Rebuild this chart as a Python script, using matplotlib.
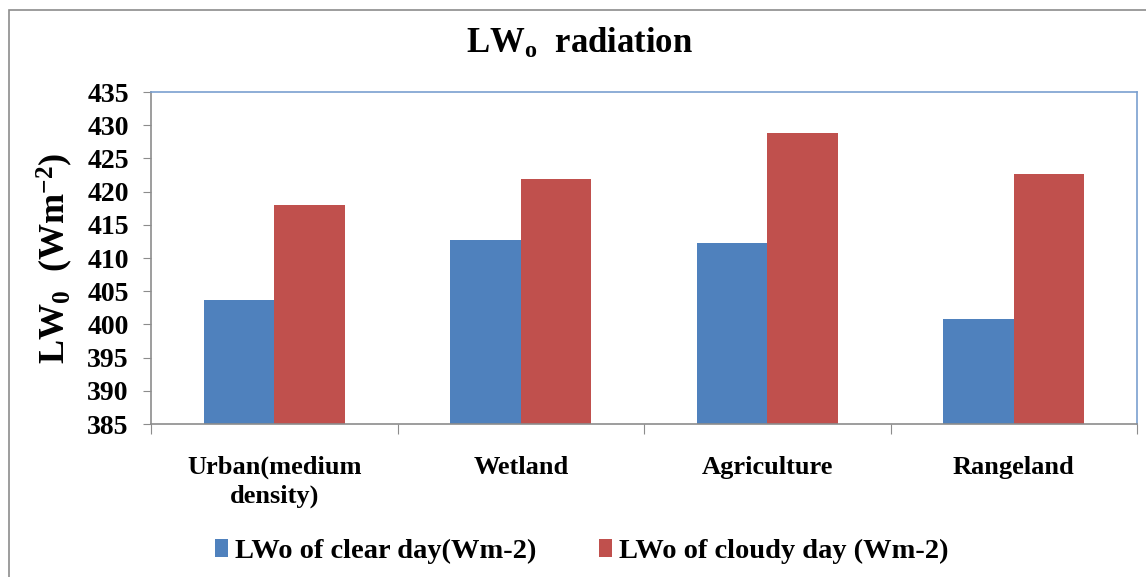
import matplotlib.pyplot as plt
import numpy as np
from matplotlib.patches import Rectangle

categories = ["Urban(medium\ndensity)", "Wetland", "Agriculture", "Rangeland"]
clear_day = [403.7, 412.7, 412.2, 400.8]
cloudy_day = [418.0, 421.9, 428.9, 422.6]
series_names = ["LWo of clear day(Wm-2)", "LWo of cloudy day (Wm-2)"]
yticks = list(range(385, 436, 5))

plt.rcParams['font.family'] = ['Liberation Serif', 'DejaVu Serif']
plt.rcParams['font.weight'] = 'bold'
plt.rcParams['mathtext.fontset'] = 'custom'
plt.rcParams['mathtext.rm'] = 'Liberation Serif:bold'
plt.rcParams['mathtext.bf'] = 'Liberation Serif:bold'
plt.rcParams['mathtext.it'] = 'Liberation Serif:bold'

fig = plt.figure(figsize=(11.46, 5.77), dpi=100)
# chart area border (right and bottom edges fall outside the image)
fig.patches.append(Rectangle((9 / 1146, -0.05), 1.1, 1 - 10 / 577 + 0.05,
                             transform=fig.transFigure, fill=False,
                             edgecolor='#8c8c8c', linewidth=1.2))
ax = fig.add_axes([151 / 1146, 1 - 424 / 577, 986 / 1146, 332 / 577])

x = np.arange(len(categories))
w = 0.286
ax.bar(x - w / 2, [v - 385 for v in clear_day], w, bottom=385, color='#4F81BD', label=series_names[0])
ax.bar(x + w / 2, [v - 385 for v in cloudy_day], w, bottom=385, color='#C0504D', label=series_names[1])

ax.set_xlim(-0.5, len(categories) - 0.5)
ax.set_ylim(385, 435)
ax.set_yticks(yticks)
ax.tick_params(axis='y', labelsize=20, length=6, color='#8c8c8c', pad=10)
ax.set_xticks(np.arange(len(categories) + 1) - 0.5)
ax.set_xticklabels([])
ax.tick_params(axis='x', length=7, color='#8c8c8c')
for i, c in enumerate(categories):
    ax.text(i, -0.095, c, transform=ax.get_xaxis_transform(), ha='center', va='top',
            fontsize=19, fontweight='bold', linespacing=1.3)

for s in ['left', 'bottom']:
    ax.spines[s].set_color('#8c8c8c')
    ax.spines[s].set_linewidth(1.2)
for s in ['top', 'right']:
    ax.spines[s].set_color('#7aa0cf')
    ax.spines[s].set_linewidth(1.2)

ax.set_ylabel(r"LW$_{0}$  (Wm$^{-2}$)", fontsize=26, fontweight='bold')
ax.yaxis.set_label_coords(-0.077, 0.5)
fig.text(0.506, 1 - 44 / 577, r"LW$_{o}$  radiation", ha='center', va='center',
         fontsize=25, fontweight='bold')

leg = fig.legend(loc='center', bbox_to_anchor=(0.508, 1 - 551 / 577), ncol=2, frameon=False,
                 prop={'size': 20.5, 'weight': 'bold'}, handlelength=0.45, handleheight=0.6,
                 handletextpad=0.25, columnspacing=2.2)

plt.savefig("out.png", dpi=100)
